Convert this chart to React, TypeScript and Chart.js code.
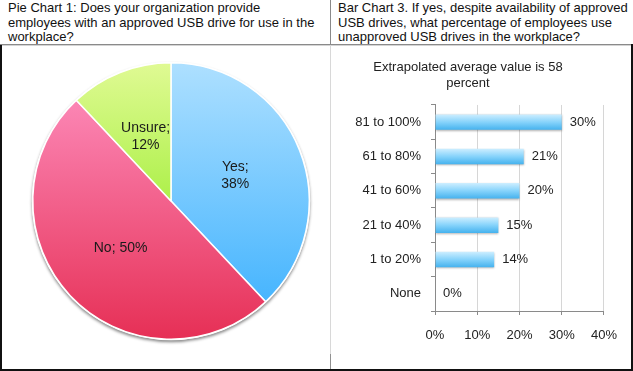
import React, { useEffect, useRef } from "react";
import { Chart, registerables } from "chart.js";

Chart.register(...registerables);

// ---------- data ----------
const pieLabels = ["Yes", "No", "Unsure"];
const pieValues = [38, 50, 12];
const pieLabelWrap = [true, false, true];
const pieTopColors = ["#aee0ff", "#ff94c4", "#e0fa94"];
const pieBottomColors = ["#36aefe", "#e62f55", "#7ae600"];

const barCategories = ["81 to 100%", "61 to 80%", "41 to 60%", "21 to 40%", "1 to 20%", "None"];
const barValues = [30, 21, 20, 15, 14, 0];
const xTickValues = [0, 10, 20, 30, 40];

const pieTitleLines = [
  "Pie Chart 1: Does your organization provide",
  "employees with an approved USB drive for use in the",
  "workplace?",
];
const barTitleLines = [
  "Bar Chart 3. If yes, despite availability of approved",
  "USB drives, what percentage of employees use",
  "unapproved USB drives in the workplace?",
];
const barChartTitle = ["Extrapolated average value is 58", "percent"];

const FONT = "'Liberation Sans', Arial, Helvetica, sans-serif";

const piePlugin = {
  id: "pieDeco",
  beforeDatasetsDraw(chart: any) {
    const arc = chart.getDatasetMeta(0).data[0];
    if (!arc) return;
    const ctx = chart.ctx;
    ctx.save();
    ctx.shadowColor = "rgba(0,0,0,0.45)";
    ctx.shadowBlur = 3;
    ctx.shadowOffsetY = 2;
    ctx.beginPath();
    ctx.arc(arc.x, arc.y, arc.outerRadius + 1, 0, Math.PI * 2);
    ctx.fillStyle = "#ffffff";
    ctx.fill();
    ctx.restore();
  },
  afterDatasetsDraw(chart: any) {
    const ctx = chart.ctx;
    const meta = chart.getDatasetMeta(0);
    ctx.save();
    ctx.font = `14px ${FONT}`;
    ctx.fillStyle = "#1a1a1a";
    ctx.textAlign = "center";
    ctx.textBaseline = "middle";
    meta.data.forEach((arc: any, i: number) => {
      const p = arc.tooltipPosition();
      const lines = pieLabelWrap[i]
        ? [`${pieLabels[i]};`, `${pieValues[i]}%`]
        : [`${pieLabels[i]}; ${pieValues[i]}%`];
      const lh = 17;
      const y0 = p.y - ((lines.length - 1) * lh) / 2;
      lines.forEach((l, k) => ctx.fillText(l, p.x, y0 + k * lh));
    });
    ctx.restore();
  },
};

const barPlugin = {
  id: "barDeco",
  beforeDatasetsDraw(chart: any) {
    const ctx = chart.ctx;
    const meta = chart.getDatasetMeta(0);
    meta.data.forEach((bar: any) => {
      const { y, height } = bar.getProps(["y", "height"], true);
      const g = ctx.createLinearGradient(0, y - height / 2, 0, y + height / 2);
      g.addColorStop(0, "#cdeeff");
      g.addColorStop(0.5, "#86d3fb");
      g.addColorStop(1, "#45b2ee");
      bar.options.backgroundColor = g;
    });
    ctx.save();
    ctx.shadowColor = "rgba(0,0,0,0.3)";
    ctx.shadowBlur = 2;
    ctx.shadowOffsetY = 1;
  },
  afterDatasetsDraw(chart: any) {
    const ctx = chart.ctx;
    ctx.restore();
    const meta = chart.getDatasetMeta(0);
    ctx.save();
    ctx.font = `13px ${FONT}`;
    ctx.fillStyle = "#222";
    ctx.textAlign = "left";
    ctx.textBaseline = "middle";
    meta.data.forEach((bar: any, i: number) => {
      const { x, y } = bar.getProps(["x", "y"], true);
      ctx.fillText(`${barValues[i]}%`, x + 8, y);
    });
    ctx.restore();
  },
};

function PieChart() {
  const ref = useRef<HTMLCanvasElement>(null);
  useEffect(() => {
    const chart = new Chart(ref.current!, {
      type: "pie",
      data: {
        labels: pieLabels,
        datasets: [
          {
            data: pieValues,
            backgroundColor: (c: any) => {
              const ch = c.chart;
              const area = ch.chartArea;
              const i = c.dataIndex;
              if (!area) return pieTopColors[i];
              const g = ch.ctx.createLinearGradient(0, area.top, 0, area.bottom);
              g.addColorStop(0, pieTopColors[i]);
              g.addColorStop(1, pieBottomColors[i]);
              return g;
            },
            borderColor: "#ffffff",
            borderWidth: 1.5,
          },
        ],
      },
      options: {
        responsive: false,
        animation: false,
        layout: { padding: { left: 30, right: 20, top: 16, bottom: 29 } },
        plugins: { legend: { display: false }, tooltip: { enabled: false } },
      },
      plugins: [piePlugin],
    } as any);
    return () => chart.destroy();
  }, []);
  return <canvas ref={ref} width={328} height={323} style={{ position: "absolute", left: 2, top: 46 }} />;
}

function BarChart() {
  const ref = useRef<HTMLCanvasElement>(null);
  useEffect(() => {
    const chart = new Chart(ref.current!, {
      type: "bar",
      data: {
        labels: barCategories,
        datasets: [
          {
            data: barValues,
            backgroundColor: () => "#86d3fb",
            borderWidth: 0,
            barPercentage: 0.45,
            categoryPercentage: 1,
          },
        ],
      },
      options: {
        indexAxis: "y",
        responsive: false,
        animation: false,
        layout: { padding: { left: 0, right: 26, top: 0, bottom: 0 } },
        plugins: {
          legend: { display: false },
          tooltip: { enabled: false },
          title: {
            display: true,
            text: barChartTitle,
            color: "#222",
            font: { family: FONT, size: 13, weight: "normal", lineHeight: 1.23 },
            padding: { top: 13, bottom: 14 },
          },
        },
        scales: {
          x: {
            min: 0,
            max: 40,
            afterBuildTicks: (s: any) => {
              s.ticks = xTickValues.map((v) => ({ value: v }));
            },
            afterFit: (s: any) => {
              s.height = 58;
            },
            ticks: {
              color: "#222",
              font: { family: FONT, size: 13 },
              padding: 13,
              callback: (v: any) => `${v}%`,
            },
            grid: { color: "#d6d6d6", tickColor: "#8a8a8a", tickLength: 4, lineWidth: 1 },
            border: { color: "#8a8a8a", width: 1 },
          },
          y: {
            afterFit: (s: any) => {
              s.width = 103;
            },
            ticks: { color: "#222", font: { family: FONT, size: 13 }, padding: 10 },
            grid: { drawOnChartArea: false, color: "#8a8a8a", tickLength: 4, offset: true },
            border: { color: "#8a8a8a", width: 1 },
          },
        },
      },
      plugins: [barPlugin],
    } as any);
    return () => chart.destroy();
  }, []);
  return <canvas ref={ref} width={298} height={323} style={{ position: "absolute", left: 332, top: 46 }} />;
}

const headerStyle: React.CSSProperties = {
  position: "absolute",
  top: 1,
  fontFamily: FONT,
  fontSize: 13,
  lineHeight: "14.5px",
  color: "#111",
  whiteSpace: "nowrap",
};

export default function App() {
  return (
    <div
      style={{
        position: "absolute",
        left: 0,
        top: 0,
        width: 633,
        height: 371,
        background: "#fff",
        overflow: "hidden",
      }}
    >
      <div style={{ ...headerStyle, left: 8 }}>
        {pieTitleLines.map((l, i) => (
          <div key={i}>{l}</div>
        ))}
      </div>
      <div style={{ ...headerStyle, left: 338 }}>
        {barTitleLines.map((l, i) => (
          <div key={i}>{l}</div>
        ))}
      </div>
      {/* header separator */}
      <div style={{ position: "absolute", left: 0, top: 44, width: 633, height: 1, background: "#8a8a8a" }} />
      <div style={{ position: "absolute", left: 0, top: 45, width: 633, height: 1, background: "#d4d4d4" }} />
      {/* vertical divider */}
      <div style={{ position: "absolute", left: 330, top: 0, width: 1, height: 45, background: "#8a8a8a" }} />
      <div style={{ position: "absolute", left: 330, top: 45, width: 1, height: 309, background: "#d8d8d8" }} />
      <div style={{ position: "absolute", left: 330, top: 354, width: 1, height: 17, background: "#909090" }} />
      {/* outer frame */}
      <div style={{ position: "absolute", left: 0, top: 45, width: 2, height: 326, background: "#111" }} />
      <div style={{ position: "absolute", left: 631, top: 44, width: 2, height: 327, background: "#111" }} />
      <div style={{ position: "absolute", left: 0, top: 369, width: 633, height: 2, background: "#111" }} />
      <PieChart />
      <BarChart />
    </div>
  );
}
